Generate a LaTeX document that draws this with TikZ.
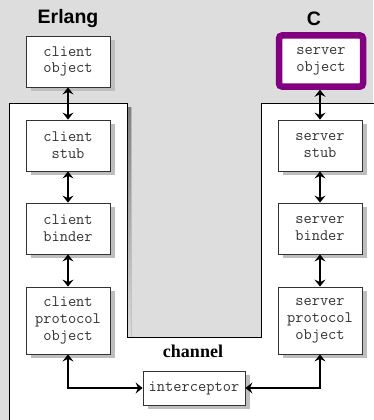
\documentclass[tikz,border=0pt]{standalone}
\usepackage{fontspec}
\usetikzlibrary{arrows.meta,shadows}
\newfontfamily\headfont{Liberation Sans}
\newfontfamily\chanfont{Liberation Serif}
\definecolor{paper}{HTML}{DDDDDD}
\definecolor{shade}{HTML}{BEBEBE}
\definecolor{edge}{HTML}{333333}
\definecolor{objpurple}{HTML}{800080}
\tikzset{
  layerbox/.style={draw=edge, line width=0.8pt, fill=white,
    minimum width=84pt, minimum height=51pt, inner sep=0pt, align=center,
    font=\ttfamily\fontsize{16}{16.8}\selectfont, text=black!80,
    drop shadow={shadow xshift=4.5pt, shadow yshift=-4pt, fill=shade, opacity=1}},
  objbox/.style={draw=objpurple, line width=6.5pt, rounded corners=3pt, fill=white,
    minimum width=84pt, minimum height=51pt, inner sep=0pt, align=center,
    font=\ttfamily\fontsize{16}{16.8}\selectfont, text=black!80},
  heading/.style={font=\headfont\bfseries\fontsize{19.5}{21}\selectfont},
  link/.style={line width=2.8pt,
    {Stealth[length=7pt,width=11pt,inset=2.5pt]}-{Stealth[length=7pt,width=11pt,inset=2.5pt]}}
}
\begin{document}
\begin{tikzpicture}[x=1pt,y=-1pt]
  \useasboundingbox (0,0) rectangle (373,420);
  \fill[paper] (0,0) rectangle (373,420);

  % runtime area: two columns joined underneath, with its shadow
  \fill[shade] (13,430) -- (13,107) -- (131,107) -- (131,341) -- (265,341)
    -- (265,107) -- (380,107) -- (380,430) -- cycle;
  \filldraw[fill=white, draw=black, line width=0.8pt]
    (9,430) -- (9,103) -- (127,103) -- (127,337) -- (261,337)
    -- (261,103) -- (380,103) -- (380,430) -- cycle;

  % column headings
  \node[heading] (erl) at (68,19) {Erlang};
  \node[heading] (cl) at (314,19) {C};

  % client side
  \node[layerbox] (cobj) at (68,61.5) {client\\object};
  \node[layerbox] (cstub) at (68,145.5) {client\\stub};
  \node[layerbox] (cbind) at (68,228.5) {client\\binder};
  \node[layerbox, minimum height=67pt] (cproto) at (68,320.5) {client\\protocol\\object};

  % server side
  \node[objbox] (sobj) at (321,61) {server\\object};
  \node[layerbox] (sstub) at (320,145.5) {server\\stub};
  \node[layerbox] (sbind) at (320,228.5) {server\\binder};
  \node[layerbox, minimum height=67pt] (sproto) at (320,320.5) {server\\protocol\\object};

  % channel
  \node[font=\chanfont\bfseries\fontsize{18}{20}\selectfont] (chan) at (193,351) {channel};
  \node[layerbox, minimum width=102pt, minimum height=34pt] (icpt) at (194,388) {interceptor};

  % connectors
  \draw[link] (cobj.south) -- (cstub.north);
  \draw[link] (cstub.south) -- (cbind.north);
  \draw[link] (cbind.south) -- (cproto.north);
  \draw[link] (sobj.south -| sstub.north) -- (sstub.north);
  \draw[link] (sstub.south) -- (sbind.north);
  \draw[link] (sbind.south) -- (sproto.north);
  \draw[link] (cproto.south) |- (icpt.west);
  \draw[link] (sproto.south) |- (icpt.east);
\end{tikzpicture}
\end{document}
